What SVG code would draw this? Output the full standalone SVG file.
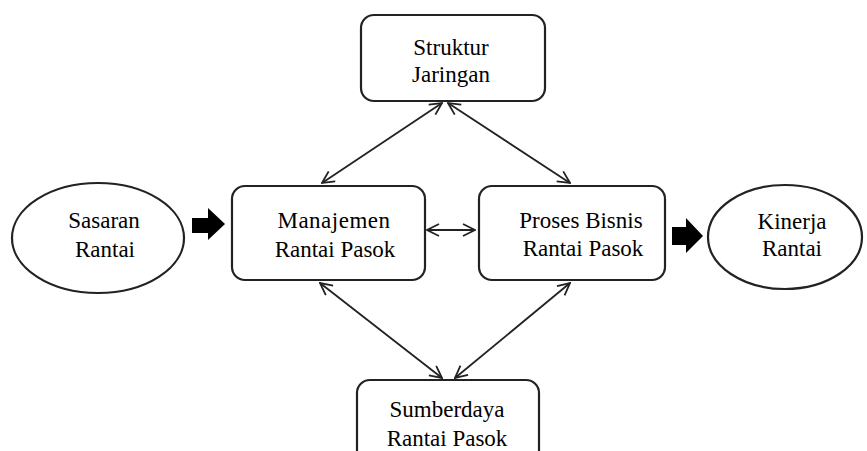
<svg xmlns="http://www.w3.org/2000/svg" width="867" height="451" viewBox="0 0 867 451">
<defs>
<marker id="ah" viewBox="0 0 14 14" refX="13" refY="7" markerWidth="14" markerHeight="14" markerUnits="userSpaceOnUse" orient="auto-start-reverse">
<path d="M1,1 L13,7 L1,13" fill="none" stroke="#222" stroke-width="1.8"/>
</marker>
</defs>
<rect width="867" height="451" fill="#fff"/>
<g id="struktur" fill="#fff" stroke="#222" stroke-width="2.2">
<rect x="361" y="15" width="184" height="86" rx="13"/>
</g>
<g id="sasaran" fill="#fff" stroke="#222" stroke-width="2.2">
<ellipse cx="98" cy="238" rx="86" ry="55"/>
</g>
<g id="manajemen" fill="#fff" stroke="#222" stroke-width="2.2">
<rect x="232" y="186" width="193" height="94" rx="13"/>
</g>
<g id="proses" fill="#fff" stroke="#222" stroke-width="2.2">
<rect x="479" y="186" width="186" height="94" rx="13"/>
</g>
<g id="kinerja" fill="#fff" stroke="#222" stroke-width="2.2">
<ellipse cx="785" cy="237" rx="77" ry="52"/>
</g>
<g id="sumberdaya" fill="#fff" stroke="#222" stroke-width="2.2">
<rect x="357" y="380" width="182" height="90" rx="13"/>
</g>
<g id="labels">
<text x="451" y="55" font-size="23" text-anchor="middle" style="font-family:'Liberation Serif',serif">Struktur</text>
<text x="451" y="82" font-size="23" text-anchor="middle" style="font-family:'Liberation Serif',serif">Jaringan</text>
<text x="104" y="228" font-size="23" text-anchor="middle" style="font-family:'Liberation Serif',serif">Sasaran</text>
<text x="105" y="257" font-size="23" text-anchor="middle" style="font-family:'Liberation Serif',serif">Rantai</text>
<text x="334" y="228" font-size="23" text-anchor="middle" letter-spacing="0.5" style="font-family:'Liberation Serif',serif">Manajemen</text>
<text x="335" y="257" font-size="23" text-anchor="middle" style="font-family:'Liberation Serif',serif">Rantai Pasok</text>
<text x="581" y="228" font-size="23" text-anchor="middle" style="font-family:'Liberation Serif',serif">Proses Bisnis</text>
<text x="583" y="256" font-size="23" text-anchor="middle" style="font-family:'Liberation Serif',serif">Rantai Pasok</text>
<text x="792" y="229" font-size="23" text-anchor="middle" style="font-family:'Liberation Serif',serif">Kinerja</text>
<text x="792" y="256" font-size="23" text-anchor="middle" style="font-family:'Liberation Serif',serif">Rantai</text>
<text x="447" y="417" font-size="23" text-anchor="middle" style="font-family:'Liberation Serif',serif">Sumberdaya</text>
<text x="447" y="446" font-size="23" text-anchor="middle" style="font-family:'Liberation Serif',serif">Rantai Pasok</text>
</g>
<g id="connectors" stroke="#222" stroke-width="1.8" fill="none" marker-start="url(#ah)" marker-end="url(#ah)">
<line x1="442" y1="103" x2="322" y2="183"/>
<line x1="448" y1="103" x2="570" y2="183"/>
<line x1="320" y1="283" x2="442" y2="378"/>
<line x1="570" y1="283" x2="455" y2="378"/>
<line x1="427" y1="230" x2="475" y2="230"/>
</g>
<g id="block-arrows" fill="#000">
<path d="M192,218 L208,218 L208,208 L225,224 L208,240 L208,233 L192,233 Z"/>
<path d="M672,227 L686,227 L686,218 L703,236 L686,253 L686,245 L672,245 Z"/>
</g>
</svg>
